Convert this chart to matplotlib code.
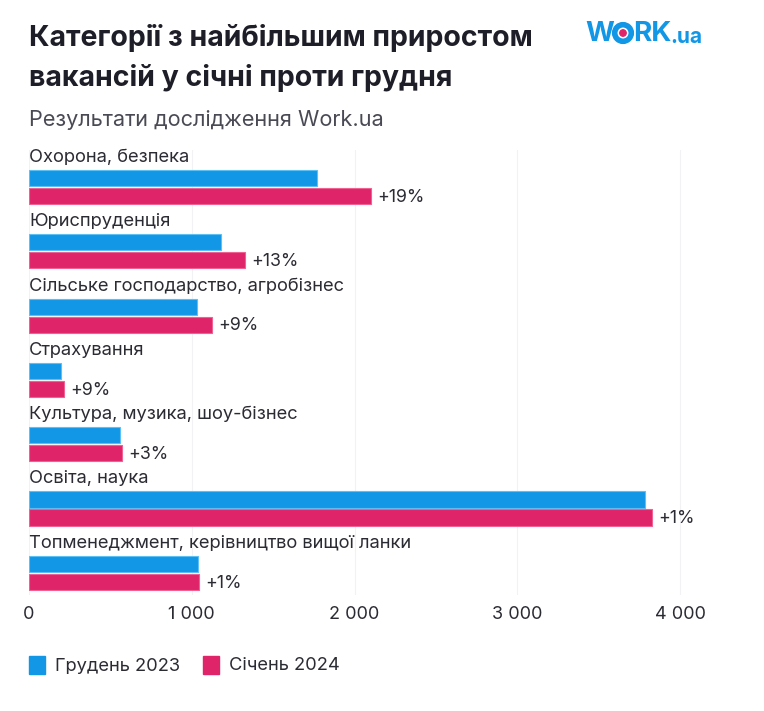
import numpy as np
import matplotlib.pyplot as plt
from matplotlib.patches import Circle

categories = ["Охорона, безпека", "Юриспруденція", "Сільське господарство, агробізнес",
              "Страхування", "Культура, музика, шоу-бізнес", "Освіта, наука",
              "Топменеджмент, керівництво вищої ланки"]
dec_2023 = [1770, 1180, 1032, 197, 559, 3785, 1038]
jan_2024 = [2101, 1327, 1124, 215, 571, 3828, 1045]
growth = ["+19%", "+13%", "+9%", "+9%", "+3%", "+1%", "+1%"]

plt.rcParams['font.family'] = ['Inter', 'DejaVu Sans']
W, H = 764, 711
fig = plt.figure(figsize=(W / 100, H / 100), dpi=100)

# axes placed in pixel coordinates
left, right, top, bottom = 29, 29 + 4200 * 0.16275, 150, 595
ax = fig.add_axes([left / W, 1 - bottom / H, (right - left) / W, (bottom - top) / H])
ax.set_xlim(0, 4200)
pitch = 64.3
ax.set_ylim((bottom - 178) / pitch, (top - 178) / pitch)

blue = "#1296e6"
pink = "#e0246a"
y = np.arange(len(categories))
ax.barh(y, dec_2023, height=0.25, color=blue, edgecolor="#5cc0f5", linewidth=0.8)
ax.barh(y + 0.28, jan_2024, height=0.25, color=pink, edgecolor="#f06090", linewidth=0.8)
for i, name in enumerate(categories):
    ax.text(0, i - 0.32, name, fontsize=13.2, color="#2b2b33", va="center", ha="left")
    ax.text(jan_2024[i] + 40, i + 0.30, growth[i], fontsize=12.8, color="#2b2b33", va="center")

ax.set_xticks([0, 1000, 2000, 3000, 4000])
ax.set_xticklabels(["0", "1 000", "2 000", "3 000", "4 000"], fontsize=13, color="#2b2b33")
ax.set_yticks([])
ax.grid(axis="x", color="#f2f2f5", linewidth=0.8)
ax.set_axisbelow(True)
for s in ax.spines.values():
    s.set_visible(False)
ax.tick_params(axis="x", length=0, pad=8)

fig.text(29 / W, 1 - 38 / H, "Категорії з найбільшим приростом", fontsize=20.5,
         fontweight="bold", color="#1e1e28", va="center")
fig.text(29 / W, 1 - 78 / H, "вакансій у січні проти грудня", fontsize=20.5,
         fontweight="bold", color="#1e1e28", va="center")
fig.text(29 / W, 1 - 120 / H, "Результати дослідження Work.ua", fontsize=15.6,
         color="#4a4a55", va="center")

# logo
lax = fig.add_axes([0, 0, 1, 1], facecolor="none")
lax.set_xlim(0, W)
lax.set_ylim(H, 0)
lax.axis("off")
lax.text(585, 34, "W", fontsize=20, fontweight="bold", color=blue, va="center")
lax.add_patch(Circle((623, 33), 8.3, facecolor="white", edgecolor=blue, linewidth=4))
lax.add_patch(Circle((623, 33), 3.2, color=pink))
lax.text(633, 34, "RK", fontsize=20, fontweight="bold", color=blue, va="center")
lax.text(670, 37, ".ua", fontsize=15, fontweight="bold", color=blue, va="center")

# legend
lax.add_patch(plt.Rectangle((29, 656), 16, 18, color=blue))
lax.text(55, 666, "Грудень 2023", fontsize=13.2, color="#2b2b33", va="center")
lax.add_patch(plt.Rectangle((203, 656), 16, 18, color=pink))
lax.text(229, 666, "Січень 2024", fontsize=13.2, color="#2b2b33", va="center")

fig.savefig("out.png", dpi=100, facecolor="white")
